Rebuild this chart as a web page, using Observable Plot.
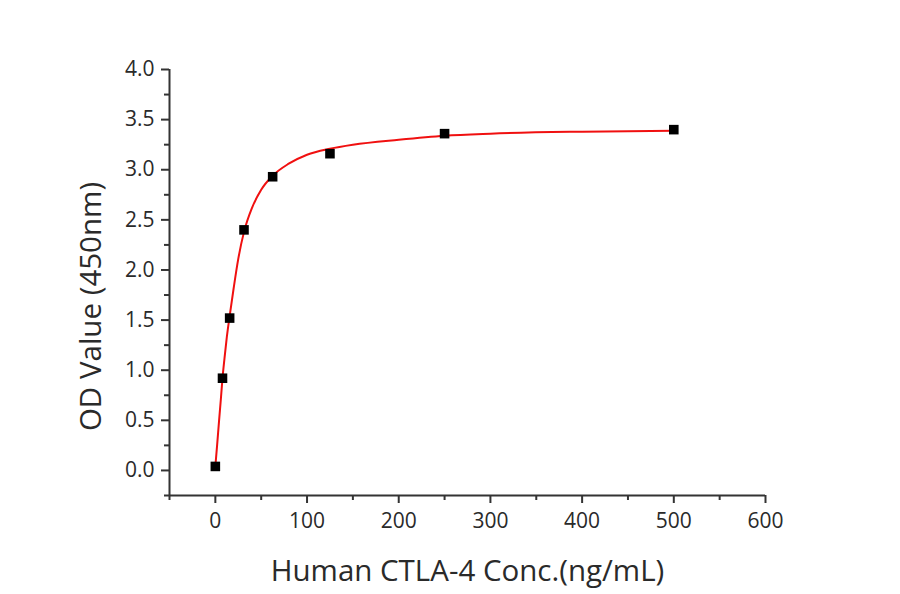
<!DOCTYPE html>
<html>
<head>
<meta charset="utf-8">
<script src="https://cdn.jsdelivr.net/npm/d3@7"></script>
<script src="https://cdn.jsdelivr.net/npm/@observablehq/plot@0.6"></script>
<style>
  html, body { margin: 0; padding: 0; background: #fff; }
  #chart svg { display: block; }
</style>
</head>
<body>
<div id="chart"></div>
<script>
// Measured concentrations (ng/mL) and OD values
const conc = [0, 7.8, 15.6, 31.25, 62.5, 125, 250, 500];
const od = [0.04, 0.92, 1.52, 2.40, 2.93, 3.16, 3.36, 3.40];

// Fitted curve
const fitX = [0, 2, 4, 6, 7.8, 10, 12.5, 15.6, 20, 25, 31.25, 40, 50, 62.5, 80, 100, 125, 150, 200, 250, 300, 400, 500];
const fitY = [0.04, 0.26, 0.49, 0.71, 0.92, 1.12, 1.33, 1.54, 1.82, 2.11, 2.38, 2.62, 2.80, 2.94, 3.06, 3.15, 3.21, 3.25, 3.30, 3.34, 3.36, 3.38, 3.39];

const xMajor = [0, 100, 200, 300, 400, 500, 600];
const xMinor = [-50, 50, 150, 250, 350, 450, 550];
const yMajor = [0, 0.5, 1.0, 1.5, 2.0, 2.5, 3.0, 3.5, 4.0];
const yMinor = [-0.25, 0.25, 0.75, 1.25, 1.75, 2.25, 2.75, 3.25, 3.75];

const xLabel = "Human CTLA-4 Conc.(ng/mL)";
const yLabel = "OD Value (450nm)";

const points = conc.map((c, i) => ({x: c, y: od[i]}));
const fit = fitX.map((c, i) => ({x: c, y: fitY[i]}));

const axisColor = "#333";
const textColor = "#2a2a2a";
const font = "'Open Sans', sans-serif";

const chart = Plot.plot({
  width: 900,
  height: 594,
  marginLeft: 169,
  marginRight: 135,
  marginTop: 69,
  marginBottom: 99,
  style: {fontFamily: font, background: "#fff", color: textColor},
  x: {type: "linear", domain: [-50, 600], axis: null},
  y: {type: "linear", domain: [-0.25, 4], axis: null},
  marks: [
    Plot.ruleX([-50], {y1: -0.25, y2: 4, stroke: axisColor, strokeWidth: 2}),
    Plot.ruleY([-0.25], {x1: -50, x2: 600, stroke: axisColor, strokeWidth: 2}),
    Plot.axisX(xMajor, {tickSize: 8, stroke: axisColor, strokeWidth: 2, tickFormat: () => "", label: null}),
    Plot.axisX(xMinor, {tickSize: 5, stroke: axisColor, strokeWidth: 2, tickFormat: () => "", label: null}),
    Plot.axisY(yMajor, {tickSize: 8, stroke: axisColor, strokeWidth: 2, tickFormat: () => "", label: null}),
    Plot.axisY(yMinor, {tickSize: 5, stroke: axisColor, strokeWidth: 2, tickFormat: () => "", label: null}),
    Plot.text(xMajor, {x: d => d, frameAnchor: "bottom", dy: 18, lineAnchor: "top", text: d => String(d), fontSize: 21, fill: textColor}),
    Plot.text(yMajor, {y: d => d, frameAnchor: "left", dx: -15, textAnchor: "end", text: d3.format(".1f"), fontSize: 21, fill: textColor}),
    Plot.line(fit, {x: "x", y: "y", stroke: "#f01010", strokeWidth: 2, curve: "monotone-x"}),
    Plot.dot(points, {x: "x", y: "y", symbol: "square", r: 5.4, fill: "#000", stroke: "none"}),
    Plot.text([xLabel], {frameAnchor: "bottom", dy: 85, fontSize: 29.5, fill: textColor}),
    Plot.text([yLabel], {frameAnchor: "left", textAnchor: "middle", dx: -78, dy: 24, rotate: -90, fontSize: 29.5, fill: textColor})
  ]
});

document.getElementById("chart").appendChild(chart);
</script>
</body>
</html>
